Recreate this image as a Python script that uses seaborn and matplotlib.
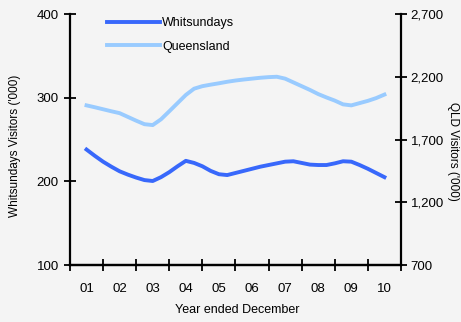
import pandas as pd
import numpy as np
import matplotlib
matplotlib.use('Agg')
import matplotlib.pyplot as plt
import seaborn as sns
from matplotlib.ticker import FuncFormatter, FixedLocator
from matplotlib.lines import Line2D

# --------------------------
# DATA (quarterly, year ended)
# --------------------------
periods = pd.period_range('2001Q4', '2010Q4', freq='Q')
year_labels = ['01', '02', '03', '04', '05', '06', '07', '08', '09', '10']

whitsundays = [238, 230.5, 223.5, 217.5, 212, 208, 204.5, 201.5, 200.4, 205,
               211, 218, 224.5, 222, 218, 212.5, 208.5, 207.5, 210, 212.5,
               215, 217.5, 219.5, 221.5, 223.5, 224, 222, 220, 219.5, 219.5,
               221.5, 224, 223.5, 219.5, 215, 210, 205]

queensland = [1972, 1957, 1941, 1925, 1910, 1880, 1850, 1822, 1815, 1861,
              1925, 1990, 2055, 2105, 2125, 2137, 2148, 2160, 2170, 2178,
              2185, 2192, 2197, 2200, 2185, 2155, 2125, 2095, 2062, 2035,
              2010, 1980, 1972, 1990, 2008, 2030, 2058]

left_ticks = [100, 200, 300, 400]
right_ticks = [700, 1200, 1700, 2200, 2700]

# position on the year axis: each year takes one slot, December in its middle
xpos = (periods.year - 2001) + periods.quarter / 4 - 0.5
df = pd.DataFrame({'x': xpos, 'Whitsundays': whitsundays, 'Queensland': queensland})

DARK = '#3868fb'
LIGHT = '#99cbff'
BG = '#f4f4f4'

plt.rcParams['font.family'] = ['Liberation Sans', 'DejaVu Sans']

fig = plt.figure(figsize=(4.61, 3.22), dpi=100, facecolor=BG)
ax1 = fig.add_axes([0.1518, 0.177, 0.7180, 0.7795])
ax1.set_facecolor(BG)
ax2 = ax1.twinx()

sns.lineplot(data=df, x='x', y='Whitsundays', ax=ax1, color=DARK, linewidth=2.8, legend=False)
sns.lineplot(data=df, x='x', y='Queensland', ax=ax2, color=LIGHT, linewidth=2.8, legend=False)

ax1.set_xlim(0, 10)
ax1.set_ylim(100, 400)
ax2.set_ylim(700, 2700)

ax1.set_yticks(left_ticks)
ax2.set_yticks(right_ticks)
ax2.yaxis.set_major_formatter(FuncFormatter(lambda v, p: f'{int(v):,}'))

# year ticks between categories, labels in the middle
ax1.xaxis.set_major_locator(FixedLocator(np.arange(0, 11)))
ax1.xaxis.set_minor_locator(FixedLocator(np.arange(10) + 0.5))
ax1.set_xticklabels([], minor=False)
ax1.set_xticklabels(year_labels, minor=True)
ax1.tick_params(axis='x', which='major', direction='inout', length=8, width=1.3)
ax1.tick_params(axis='x', which='minor', length=0, pad=13, labelsize=9.5)
ax1.tick_params(axis='y', direction='inout', length=8, width=1.3, labelsize=9.5, pad=4)
ax2.tick_params(axis='y', direction='inout', length=8, width=1.3, labelsize=9.5, pad=3)

for ax in (ax1, ax2):
    ax.spines['top'].set_visible(False)
    for s in ('left', 'right', 'bottom'):
        ax.spines[s].set_linewidth(1.6)
        ax.spines[s].set_color('black')
ax1.spines['right'].set_visible(False)
ax2.spines['left'].set_visible(False)

ax1.set_xlabel('Year ended December', fontsize=9)
ax1.set_ylabel("Whitsundays Visitors ('000)", fontsize=8.5)
ax2.set_ylabel("QLD Visitors ('000)", fontsize=8.5, rotation=270)
for lab in (ax1.xaxis.label, ax1.yaxis.label, ax2.yaxis.label):
    lab.set_va('center')
    lab.set_ha('center')
ax1.xaxis.set_label_coords(0.506, -0.179)
ax1.yaxis.set_label_coords(-0.166, 0.474)
ax2.yaxis.set_label_coords(1.158, 0.454)

handles = [Line2D([], [], color=DARK, linewidth=2.8),
           Line2D([], [], color=LIGHT, linewidth=2.8)]
ax1.legend(handles, ['Whitsundays', 'Queensland'], loc='upper left',
           bbox_to_anchor=(0.112, 0.988), frameon=False, fontsize=9,
           handlelength=4.2, handletextpad=0.2, labelspacing=0.93,
           borderpad=0, borderaxespad=0)

plt.savefig('out.png', dpi=100, facecolor=BG)
plt.close(fig)
